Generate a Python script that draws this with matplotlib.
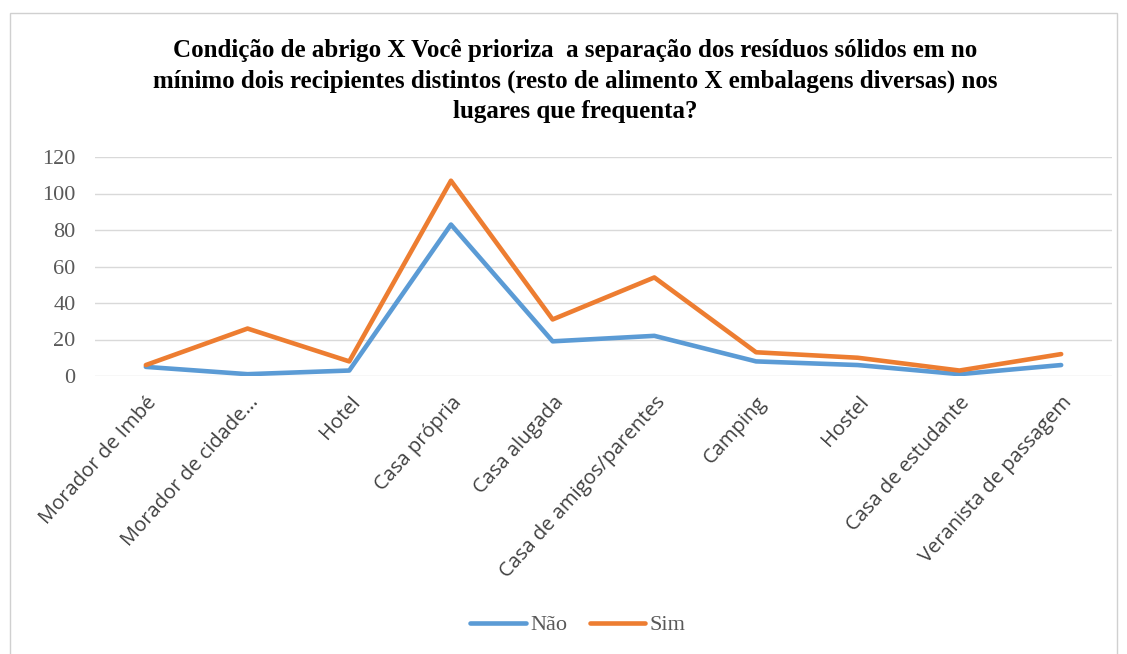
import matplotlib.pyplot as plt
from matplotlib.patches import Rectangle

categorias = ["Morador de Imbé", "Morador de cidade...", "Hotel", "Casa própria",
              "Casa alugada", "Casa de amigos/parentes", "Camping", "Hostel",
              "Casa de estudante", "Veranista de passagem"]
nao = [5, 1, 3, 83, 19, 22, 8, 6, 1, 6]
sim = [6, 26, 8, 107, 31, 54, 13, 10, 3, 12]
y_ticks = [0, 20, 40, 60, 80, 100, 120]

titulo = ("Condição de abrigo X Você prioriza  a separação dos resíduos sólidos em no\n"
          "mínimo dois recipientes distintos (resto de alimento X embalagens diversas) nos\n"
          "lugares que frequenta?")

serif = ["Liberation Serif", "DejaVu Serif"]
sans = ["Open Sans", "DejaVu Sans"]

fig = plt.figure(figsize=(11.27, 6.54), dpi=100)
fig.patches.append(Rectangle((10 / 1127, -0.1), 1107 / 1127, 1.1 - 13 / 654,
                             transform=fig.transFigure, fill=False,
                             edgecolor="#d0d0d0", linewidth=1))

ax = fig.add_axes([95 / 1127, 1 - 376 / 654, 1017 / 1127, 219 / 654])
x = range(len(categorias))
ax.plot(x, nao, color="#5B9BD5", linewidth=3.3, label="Não", solid_capstyle="round")
ax.plot(x, sim, color="#ED7D31", linewidth=3.3, label="Sim", solid_capstyle="round")

ax.set_xlim(-0.5, len(categorias) - 0.5)
ax.set_ylim(0, 120)
ax.set_yticks(y_ticks)
ax.set_yticklabels([str(v) for v in y_ticks], family=serif, fontsize=16, color="#595959")
ax.set_xticks(list(x))
ax.set_xticklabels(categorias, rotation=48, ha="right", va="top",
                   rotation_mode="anchor", family=sans, fontsize=14.5, color="#404040")
ax.tick_params(length=0, pad=12)
ax.tick_params(axis="y", pad=14)
ax.grid(axis="y", color="#d9d9d9", linewidth=1)
ax.set_axisbelow(True)
for s in ax.spines.values():
    s.set_visible(False)

fig.text(575 / 1127, 1 - 39 / 654, titulo, ha="center", va="top", family=serif,
         fontsize=18, fontweight="bold", linespacing=1.4)

fig.legend(loc="center", bbox_to_anchor=(578 / 1127, 1 - 625 / 654), ncol=2,
           frameon=False, prop={"family": serif, "size": 16}, handlelength=2.5,
           columnspacing=1.0, handletextpad=0.2, labelcolor="#595959")

fig.savefig("out.png", dpi=100)
